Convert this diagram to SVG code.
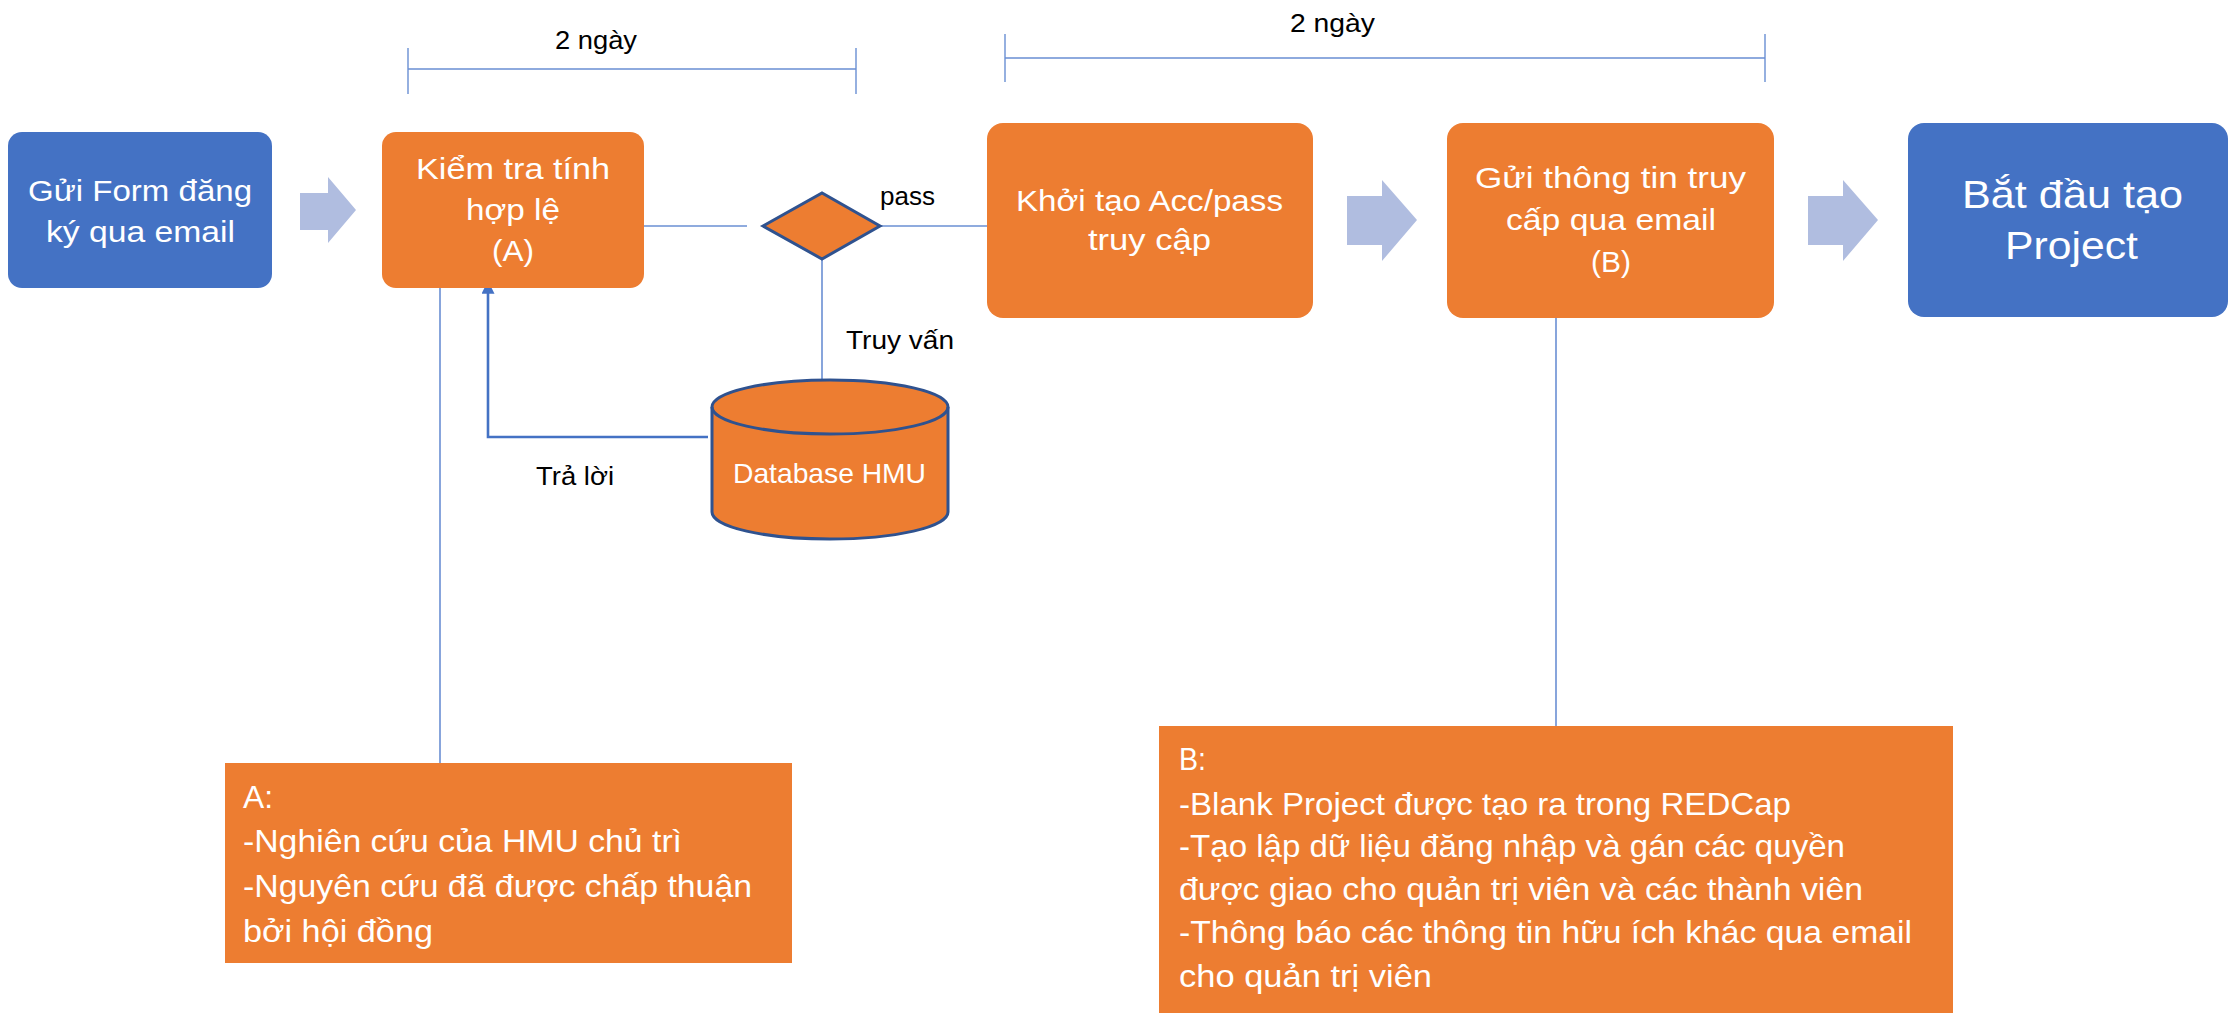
<svg xmlns="http://www.w3.org/2000/svg" width="2230" height="1013" viewBox="0 0 2230 1013">
  <defs>
    <style>
      .t { font-family: "Liberation Sans", Arial, "DejaVu Sans", sans-serif; }
      .w { fill: #FFFFFF; }
      .k { fill: #000000; }
      .box-o { fill: #ED7D31; }
      .box-b { fill: #4472C4; }
      .chev { fill: #B0BDE0; }
      .conn { stroke: #6A8FD3; stroke-width: 1.6; fill: none; }
      .dim { stroke: #6A8FD3; stroke-width: 1.4; fill: none; }
      .shape-stroke { stroke: #2F528F; stroke-width: 3; }
    </style>
    <marker id="ah" viewBox="0 0 10 10" refX="9" refY="5" markerWidth="5" markerHeight="5" orient="auto">
      <path d="M0,0 L10,5 L0,10 Z" fill="#4472C4"/>
    </marker>
  </defs>

  <rect x="0" y="0" width="2230" height="1013" fill="#FFFFFF"/>

  <!-- connectors -->
  <g id="connectors">
    <!-- duration brackets -->
    <path class="dim" d="M408,69 H856 M408,48 V94 M856,48 V94"/>
    <path class="dim" d="M1005,58 H1765 M1005,34 V82 M1765,34 V82"/>
    <!-- check -> decision -->
    <line class="conn" x1="612" y1="226" x2="747" y2="226"/>
    <!-- decision -> create account -->
    <line class="conn" x1="880" y1="226" x2="987" y2="226"/>
    <!-- decision -> database -->
    <line class="conn" x1="822" y1="259" x2="822" y2="380"/>
    <!-- database answer -> check -->
    <path d="M708,437 H488 V282" fill="none" stroke="#4472C4" stroke-width="2.6" marker-end="url(#ah)"/>
    <!-- note lines -->
    <line class="conn" x1="440" y1="278" x2="440" y2="763"/>
    <line class="conn" x1="1556" y1="309" x2="1556" y2="726"/>
    <!-- block arrows -->
    <polygon class="chev" points="300,193 328,193 328,177 356,210 328,243 328,230 300,230"/>
    <polygon class="chev" points="1347,196 1382,196 1382,180 1417,220 1382,261 1382,245 1347,245"/>
    <polygon class="chev" points="1808,196 1843,196 1843,180 1878,220 1843,261 1843,245 1808,245"/>
  </g>

  <!-- labels on connectors -->
  <g id="labels" class="t k">
    <text x="555" y="49" font-size="26.5" textLength="82" lengthAdjust="spacingAndGlyphs">2 ngày</text>
    <text x="1290" y="32" font-size="26.5" textLength="85" lengthAdjust="spacingAndGlyphs">2 ngày</text>
    <text x="880" y="205" font-size="26.5" textLength="55" lengthAdjust="spacingAndGlyphs">pass</text>
    <text x="846" y="349" font-size="26.5" textLength="108" lengthAdjust="spacingAndGlyphs">Truy vấn</text>
    <text x="536" y="485" font-size="26.5" textLength="78" lengthAdjust="spacingAndGlyphs">Trả lời</text>
  </g>

  <g id="node-send-form">
    <rect class="box-b" x="8" y="132" width="264" height="156" rx="14"/>
    <text class="t w" x="28" y="201" font-size="29.5" textLength="224" lengthAdjust="spacingAndGlyphs">Gửi Form đăng</text>
    <text class="t w" x="46" y="242" font-size="29.5" textLength="189" lengthAdjust="spacingAndGlyphs">ký qua email</text>
  </g>

  <g id="node-check">
    <rect class="box-o" x="382" y="132" width="262" height="156" rx="14"/>
    <text class="t w" x="416" y="179" font-size="29.5" textLength="194" lengthAdjust="spacingAndGlyphs">Kiểm tra tính</text>
    <text class="t w" x="466" y="220" font-size="29.5" textLength="94" lengthAdjust="spacingAndGlyphs">hợp lệ</text>
    <text class="t w" x="492" y="261" font-size="29.5" textLength="42" lengthAdjust="spacingAndGlyphs">(A)</text>
  </g>

  <g id="node-decision">
    <polygon class="box-o shape-stroke" stroke-width="2.5" points="763,226 822,193 880,226 822,259"/>
  </g>

  <g id="node-database">
    <path class="box-o shape-stroke" d="M712,407 V512 A118,27 0 0 0 948,512 V407 A118,27 0 0 0 712,407 Z"/>
    <path class="shape-stroke" fill="none" d="M712,407 A118,27 0 0 0 948,407"/>
    <text class="t w" x="733" y="483" font-size="28" textLength="193" lengthAdjust="spacingAndGlyphs">Database HMU</text>
  </g>

  <g id="node-create-account">
    <rect class="box-o" x="987" y="123" width="326" height="195" rx="16"/>
    <text class="t w" x="1016" y="211" font-size="29.5" textLength="267" lengthAdjust="spacingAndGlyphs">Khởi tạo Acc/pass</text>
    <text class="t w" x="1088" y="250" font-size="29.5" textLength="123" lengthAdjust="spacingAndGlyphs">truy cập</text>
  </g>

  <g id="node-send-info">
    <rect class="box-o" x="1447" y="123" width="327" height="195" rx="16"/>
    <text class="t w" x="1475" y="188" font-size="29.5" textLength="271" lengthAdjust="spacingAndGlyphs">Gửi thông tin truy</text>
    <text class="t w" x="1506" y="230" font-size="29.5" textLength="210" lengthAdjust="spacingAndGlyphs">cấp qua email</text>
    <text class="t w" x="1591" y="272" font-size="29.5" textLength="40" lengthAdjust="spacingAndGlyphs">(B)</text>
  </g>

  <g id="node-start-project">
    <rect class="box-b" x="1908" y="123" width="320" height="194" rx="16"/>
    <text class="t w" x="1962" y="208" font-size="39" textLength="221" lengthAdjust="spacingAndGlyphs">Bắt đầu tạo</text>
    <text class="t w" x="2005" y="259" font-size="39" textLength="133" lengthAdjust="spacingAndGlyphs">Project</text>
  </g>

  <g id="note-a">
    <rect class="box-o" x="225" y="763" width="567" height="200"/>
    <text class="t w" x="243" y="808" font-size="31.5" textLength="30" lengthAdjust="spacingAndGlyphs">A:</text>
    <text class="t w" x="243" y="852" font-size="31.5" textLength="439" lengthAdjust="spacingAndGlyphs">-Nghiên cứu của HMU chủ trì</text>
    <text class="t w" x="243" y="897" font-size="31.5" textLength="509" lengthAdjust="spacingAndGlyphs">-Nguyên cứu đã được chấp thuận</text>
    <text class="t w" x="243" y="942" font-size="31.5" textLength="190" lengthAdjust="spacingAndGlyphs">bởi hội đồng</text>
  </g>

  <g id="note-b">
    <rect class="box-o" x="1159" y="726" width="794" height="300"/>
    <text class="t w" x="1179" y="770" font-size="31.5" textLength="27" lengthAdjust="spacingAndGlyphs">B:</text>
    <text class="t w" x="1179" y="815" font-size="31.5" textLength="612" lengthAdjust="spacingAndGlyphs">-Blank Project được tạo ra trong REDCap</text>
    <text class="t w" x="1179" y="857" font-size="31.5" textLength="666" lengthAdjust="spacingAndGlyphs">-Tạo lập dữ liệu đăng nhập và gán các quyền</text>
    <text class="t w" x="1179" y="900" font-size="31.5" textLength="684" lengthAdjust="spacingAndGlyphs">được giao cho quản trị viên và các thành viên</text>
    <text class="t w" x="1179" y="943" font-size="31.5" textLength="733" lengthAdjust="spacingAndGlyphs">-Thông báo các thông tin hữu ích khác qua email</text>
    <text class="t w" x="1179" y="987" font-size="31.5" textLength="253" lengthAdjust="spacingAndGlyphs">cho quản trị viên</text>
  </g>
</svg>
